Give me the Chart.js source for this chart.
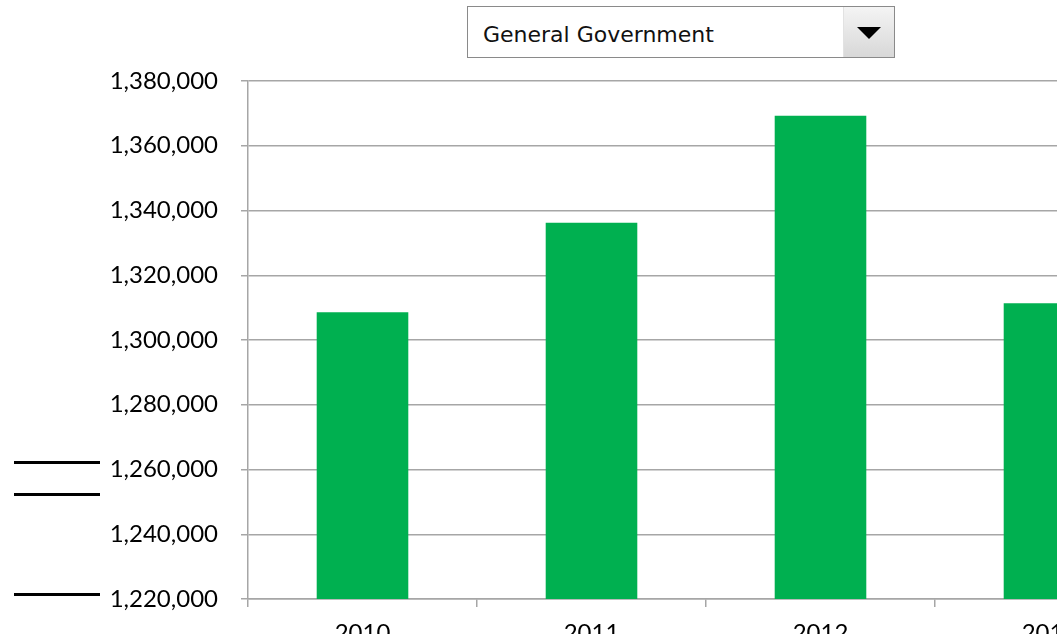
<!DOCTYPE html>
<html>
<head>
<meta charset="utf-8">
<script src="https://cdn.jsdelivr.net/npm/chart.js@4/dist/chart.umd.min.js"></script>
<style>
  html, body { margin: 0; padding: 0; background: #fff; overflow: hidden; width: 1057px; height: 634px; }
  #wrap { position: absolute; left: 0; top: 0; width: 1180px; height: 680px; }
  .dash { position: absolute; left: 14px; width: 86px; height: 3px; background: #000; }
  #picker {
    position: absolute; left: 467px; top: 6px; width: 428px; height: 52px;
    border: 1px solid #8a8a8a; background: #fff; box-sizing: border-box;
    font-family: "DejaVu Sans", Verdana, sans-serif; font-size: 22px; color: #111;
  }
  #picker .txt { position: absolute; left: 15px; top: 15px; white-space: nowrap; }
  #picker .btn {
    position: absolute; right: 0; top: 0; width: 50px; height: 50px;
    background: linear-gradient(#f4f4f4, #d8d8d8); border-left: 1px solid #e2e2e2;
  }
  #picker .btn:after {
    content: ""; position: absolute; left: 13px; top: 20px;
    border-left: 12px solid transparent; border-right: 12px solid transparent; border-top: 12px solid #000;
  }
</style>
</head>
<body>
<div id="wrap"><canvas id="chart" width="1180" height="680"></canvas></div>
<div class="dash" style="top:461px"></div>
<div class="dash" style="top:493px"></div>
<div class="dash" style="top:593px"></div>
<div id="picker"><span class="txt">General Government</span><span class="btn"></span></div>
<script>
// values
const years = ['2010', '2011', '2012', '2013'];
const employees = [1308560, 1336180, 1369280, 1311350];
const yMin = 1220000;
const yMax = 1380000;
const yStep = 20000;

const gridGray = '#a6a6a6';
const labelFont = { family: 'Lato, "Open Sans", sans-serif', size: 24 };

new Chart(document.getElementById('chart'), {
  type: 'bar',
  data: {
    labels: years,
    datasets: [{
      label: 'General Government',
      data: employees,
      backgroundColor: '#00b050',
      barPercentage: 0.4,
      categoryPercentage: 1.0
    }]
  },
  options: {
    responsive: false,
    animation: false,
    layout: { padding: { left: 0, top: 81, right: 16, bottom: 21 } },
    plugins: { legend: { display: false }, tooltip: { enabled: false } },
    scales: {
      x: {
        afterFit: (s) => { s.height = 60; },
        grid: { drawOnChartArea: false, color: gridGray, lineWidth: 1.5, tickLength: 8 },
        border: { color: gridGray, width: 1.5 },
        ticks: { color: '#000', font: labelFont, padding: 12 }
      },
      y: {
        min: yMin,
        max: yMax,
        afterFit: (s) => { s.width = 248; },
        grid: { color: gridGray, lineWidth: 1.5, tickLength: 7 },
        border: { color: gridGray, width: 1.5 },
        ticks: {
          stepSize: yStep,
          color: '#000',
          font: labelFont,
          padding: 23,
          callback: (v) => v.toLocaleString('en-US')
        }
      }
    }
  }
});
</script>
</body>
</html>
